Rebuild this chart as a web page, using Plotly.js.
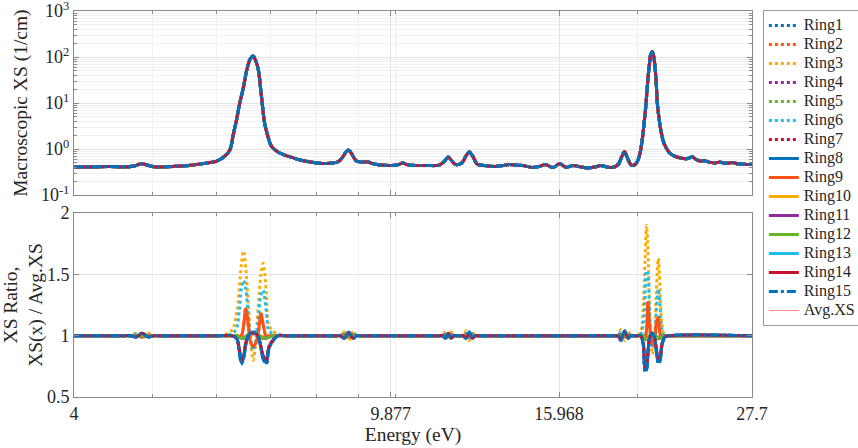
<!DOCTYPE html>
<html><head><meta charset="utf-8">
<script src="https://cdn.plot.ly/plotly-3.0.1.min.js"></script>
<style>html,body{margin:0;padding:0;background:#fff}</style>
</head><body><div id="chart" style="width:858px;height:448px"></div>
<script>
const ringNames = ['Ring1','Ring2','Ring3','Ring4','Ring5','Ring6','Ring7','Ring8','Ring9','Ring10','Ring11','Ring12','Ring13','Ring14','Ring15'];
const avgName = 'Avg.XS';

const xsE = [4.0,4.2,4.43,4.6,4.75,4.85,4.95,5.05,5.3,5.55,5.85,6.0,6.15,6.24,6.30,6.36,6.42,6.49,6.55,6.61,6.67,6.72,6.77,6.83,6.89,6.95,7.03,7.15,7.3,7.45,7.65,8.0,8.3,8.5,8.6,8.7,8.76,8.84,8.95,9.1,9.23,9.4,9.6,9.9,10.1,10.22,10.35,10.6,11.0,11.35,11.52,11.64,11.76,11.9,12.1,12.25,12.36,12.48,12.65,12.9,13.3,13.6,13.85,14.1,14.4,14.8,15.1,15.35,15.7,16.0,16.3,16.6,17.0,17.3,17.7,18.0,18.3,18.6,18.9,19.1,19.25,19.4,19.6,19.75,19.95,20.1,20.25,20.35,20.45,20.55,20.65,20.75,20.84,20.93,21.0,21.08,21.14,21.25,21.35,21.5,21.65,21.9,22.2,22.6,22.9,23.1,23.35,23.6,23.9,24.2,24.5,24.9,25.3,25.7,26.2,26.6,27.0,27.7];
const xsAvg = [0.41,0.41,0.42,0.41,0.43,0.48,0.44,0.41,0.42,0.44,0.50,0.54,0.70,0.95,2.0,4.3,10,22.6,52,88,105,82,52,14,3.8,2.0,1.15,0.88,0.74,0.66,0.57,0.50,0.49,0.53,0.65,0.88,0.95,0.78,0.56,0.52,0.53,0.48,0.45,0.44,0.46,0.50,0.46,0.44,0.44,0.45,0.55,0.67,0.55,0.46,0.50,0.72,0.86,0.70,0.47,0.44,0.42,0.44,0.46,0.45,0.44,0.40,0.42,0.46,0.40,0.48,0.40,0.44,0.41,0.39,0.41,0.44,0.41,0.40,0.46,0.68,0.88,0.66,0.46,0.44,0.52,0.75,1.6,3.5,8,24,60,115,130,100,62,25,10,4.5,2.6,1.5,1.12,0.82,0.70,0.64,0.62,0.63,0.68,0.60,0.55,0.56,0.52,0.50,0.52,0.49,0.51,0.48,0.47,0.46];

const ratioE = [4.0,
  4.62,4.7,4.78,4.86,4.94,5.02,5.1,
  5.95,6.06,6.27,6.36,6.41,6.45,6.49,6.53,6.58,6.62,6.67,6.72,6.77,6.82,6.86,6.93,6.98,7.16,7.3,
  8.45,8.55,8.65,8.76,8.87,8.97,9.07,
  11.35,11.45,11.55,11.64,11.73,11.83,11.93,
  12.05,12.15,12.25,12.36,12.47,12.58,12.68,
  18.8,18.9,19.05,19.25,19.45,19.6,19.7,
  19.96,20.16,20.31,20.42,20.5,20.58,20.7,20.84,20.98,21.08,21.2,21.3,21.42,21.6,21.9,
  27.7];

const ratioRing1  = [1, 1,1,0.99,1.02,0.99,1,1, 1,1.0,1.0,0.98,0.88,0.78,0.82,0.93,1.0,1.02,1.03,1.02,0.99,0.9,0.82,0.78,0.9,1.0,1.0, 1,1,0.98,1.03,0.98,1,1, 1,1,0.98,1.02,0.98,1,1, 1,1,0.98,1.03,0.98,1,1, 1,1,0.96,1.04,0.98,1,1, 1.0,1.0,0.93,0.72,0.73,0.85,0.99,1.02,0.98,0.88,0.79,0.8,0.92,0.99,1.0, 1];
const ratioRing2  = [1, 1,1,1.0,0.99,1.0,1,1, 1,1.0,1.0,1.0,0.99,1.0,1.08,1.22,1.08,0.95,0.91,0.94,1.03,1.18,1.1,0.99,1.0,1.0,1.0, 1,1,1.01,0.99,1.01,1,1, 1,1,1.01,0.99,1.01,1,1, 1,1,1.01,0.99,1.01,1,1, 1,1,1.01,0.99,1.01,1,1, 1.0,1.0,1.0,0.99,1.05,1.27,1.05,0.93,0.97,1.1,1.15,1.02,0.99,1.0,1.0, 1];
const ratioRing3  = [1, 1,1,1.02,0.98,1.02,1,1, 1,1.0,1.04,1.18,1.38,1.58,1.69,1.55,1.25,1.0,0.80,0.95,1.25,1.5,1.59,1.34,1.08,1.01,1.0, 1,1,1.03,0.96,1.03,1,1, 1,1,1.03,0.97,1.03,1,1, 1,1,1.04,0.96,1.03,1,1, 1,1,1.05,0.96,1.03,1,1, 1.0,1.03,1.25,1.65,1.9,1.7,1.15,0.85,1.0,1.35,1.63,1.4,1.1,1.0,1.0, 1];
const ratioRing4  = [1, 1,1,1,1,1,1,1, 1,1.0,1.0,1.0,0.99,0.98,0.98,0.99,1.01,1.02,1.02,1.02,1.01,0.99,0.98,0.98,0.99,1.0,1.0, 1,1,1,1,1,1,1, 1,1,1,1,1,1,1, 1,1,1,1,1,1,1, 1,1,1,1,1,1,1, 1.0,1.0,1.0,0.98,0.97,0.98,1.0,1.02,1.01,0.99,0.98,0.98,0.99,1.0,1.0, 1];
const ratioRing5  = [1, 1,1,1,1,1,1,1, 1,1.0,1.0,1.0,0.99,0.98,0.98,0.99,1.01,1.02,1.02,1.02,1.01,0.99,0.98,0.98,0.99,1.0,1.0, 1,1,1,1,1,1,1, 1,1,1,1,1,1,1, 1,1,1,1,1,1,1, 1,1,1,1,1,1,1, 1.0,1.0,1.0,0.98,0.97,0.98,1.0,1.02,1.01,0.99,0.98,0.98,0.99,1.0,1.0, 1];
const ratioRing6  = [1, 1,1,1.01,0.99,1.01,1,1, 1,1.0,1.01,1.06,1.2,1.38,1.45,1.38,1.15,0.97,0.88,0.95,1.15,1.33,1.37,1.18,1.04,1.0,1.0, 1,1,1.02,0.98,1.02,1,1, 1,1,1.02,0.98,1.02,1,1, 1,1,1.02,0.98,1.02,1,1, 1,1,1.03,0.98,1.02,1,1, 1.0,1.01,1.1,1.35,1.53,1.5,1.1,0.9,1.0,1.2,1.38,1.25,1.05,1.0,1.0, 1];
const ratioRing7  = [1, 1,1,0.99,1.02,0.99,1,1, 1,1.0,1.0,0.98,0.89,0.8,0.83,0.94,1.0,1.02,1.02,1.02,0.99,0.91,0.84,0.8,0.91,1.0,1.0, 1,1,0.98,1.02,0.98,1,1, 1,1,0.98,1.02,0.98,1,1, 1,1,0.98,1.02,0.98,1,1, 1,1,0.97,1.03,0.98,1,1, 1.0,1.0,0.94,0.74,0.75,0.86,0.99,1.02,0.98,0.89,0.81,0.82,0.93,0.99,1.0, 1];
const ratioRing8  = [1, 1,1,0.99,1.02,0.99,1,1, 1,1.0,1.0,0.98,0.88,0.78,0.82,0.93,1.0,1.02,1.03,1.02,0.99,0.9,0.82,0.78,0.9,1.0,1.0, 1,1,0.98,1.03,0.98,1,1, 1,1,0.98,1.02,0.98,1,1, 1,1,0.98,1.03,0.98,1,1, 1,1,0.96,1.04,0.98,1,1, 1.0,1.0,0.93,0.72,0.73,0.85,0.99,1.02,0.98,0.88,0.79,0.8,0.92,0.99,1.0, 1];
const ratioRing9  = [1, 1,1,1.0,0.99,1.0,1,1, 1,1.0,1.0,1.0,0.99,1.0,1.08,1.22,1.08,0.95,0.91,0.94,1.03,1.18,1.1,0.99,1.0,1.0,1.0, 1,1,1.01,0.99,1.01,1,1, 1,1,1.01,0.99,1.01,1,1, 1,1,1.01,0.99,1.01,1,1, 1,1,1.01,0.99,1.01,1,1, 1.0,1.0,1.0,0.99,1.05,1.27,1.05,0.93,0.97,1.1,1.15,1.02,0.99,1.0,1.0, 1];
const ratioRing10 = [1, 1,1,1,1,1,1,1, 1,1.0,1.0,1.0,0.99,0.98,0.98,0.99,1.01,1.02,1.02,1.02,1.01,0.99,0.98,0.98,0.99,1.0,1.0, 1,1,1,1,1,1,1, 1,1,1,1,1,1,1, 1,1,1,1,1,1,1, 1,1,1,1,1,1,1, 1.0,1.0,1.0,0.98,0.97,0.98,1.0,1.02,1.01,0.99,0.98,0.98,0.99,1.0,1.0, 1];
const ratioRing11 = [1, 1,1,1,1,1,1,1, 1,1.0,1.0,1.0,0.99,0.98,0.98,0.99,1.01,1.02,1.02,1.02,1.01,0.99,0.98,0.98,0.99,1.0,1.0, 1,1,1,1,1,1,1, 1,1,1,1,1,1,1, 1,1,1,1,1,1,1, 1,1,1,1,1,1,1, 1.0,1.0,1.0,0.98,0.97,0.98,1.0,1.02,1.01,0.99,0.98,0.98,0.99,1.0,1.0, 1];
const ratioRing12 = [1, 1,1,1,1,1,1,1, 1,1.0,1.0,1.0,0.99,0.98,0.98,0.99,1.01,1.02,1.02,1.02,1.01,0.99,0.98,0.98,0.99,1.0,1.0, 1,1,1,1,1,1,1, 1,1,1,1,1,1,1, 1,1,1,1,1,1,1, 1,1,1,1,1,1,1, 1.0,1.0,1.0,0.98,0.97,0.98,1.0,1.02,1.01,0.99,0.98,0.98,0.99,1.0,1.0, 1];
const ratioRing13 = [1, 1,1,0.99,1.02,0.99,1,1, 1,1.0,1.0,0.98,0.89,0.8,0.83,0.94,1.0,1.02,1.02,1.02,0.99,0.91,0.84,0.8,0.91,1.0,1.0, 1,1,0.98,1.02,0.98,1,1, 1,1,0.98,1.02,0.98,1,1, 1,1,0.98,1.02,0.98,1,1, 1,1,0.97,1.03,0.98,1,1, 1.0,1.0,0.94,0.74,0.75,0.86,0.99,1.02,0.98,0.89,0.81,0.82,0.93,0.99,1.0, 1];
const ratioRing14 = [1, 1,1,0.99,1.02,0.99,1,1, 1,1.0,1.0,0.98,0.89,0.8,0.83,0.94,1.0,1.02,1.02,1.02,0.99,0.91,0.84,0.8,0.91,1.0,1.0, 1,1,0.98,1.02,0.98,1,1, 1,1,0.98,1.02,0.98,1,1, 1,1,0.98,1.02,0.98,1,1, 1,1,0.97,1.03,0.98,1,1, 1.0,1.0,0.94,0.74,0.75,0.86,0.99,1.02,0.98,0.89,0.81,0.82,0.93,0.99,1.0, 1];
const ratioRing15 = [1, 1,1,0.99,1.02,0.99,1,1, 1,1.0,1.0,0.98,0.87,0.77,0.81,0.92,1.0,1.02,1.03,1.02,0.99,0.9,0.81,0.77,0.9,1.0,1.0, 1,1,0.98,1.03,0.98,1,1, 1,1,0.98,1.02,0.98,1,1, 1,1,0.98,1.03,0.98,1,1, 1,1,0.96,1.04,0.98,1,1, 1.0,1.0,0.92,0.70,0.72,0.84,0.99,1.02,0.98,0.87,0.77,0.79,0.92,0.99,1.0, 1];
const ratioAvg    = [1, 1,1,1,1,1,1,1, 1,1,1,1,1,1,1,1,1,1,1,1,1,1,1,1,1,1,1, 1,1,1,1,1,1,1, 1,1,1,1,1,1,1, 1,1,1,1,1,1,1, 1,1,1,1,1,1,1, 1,1,1,1,1,1,1,1,1,1,1,1,1,1,1, 1];

const xTickVals = [4, 9.877, 15.968, 27.7];
const xTickText = ['4', '9.877', '15.968', '27.7'];
const xMinorVals = [5, 6, 7, 8, 9, 10, 20];
const yTopTickVals = [0.1, 1, 10, 100, 1000];
const yTopTickText = ['10<sup>-1</sup>', '10<sup>0</sup>', '10<sup>1</sup>', '10<sup>2</sup>', '10<sup>3</sup>'];
const yBotTickVals = [0.5, 1, 1.5, 2];
const yBotTickText = ['0.5', '1', '1.5', '2'];

const ringRatios = [ratioRing1,ratioRing2,ratioRing3,ratioRing4,ratioRing5,ratioRing6,ratioRing7,ratioRing8,ratioRing9,ratioRing10,ratioRing11,ratioRing12,ratioRing13,ratioRing14,ratioRing15];
const palette = ['#0072BD','#FF5015','#FFAA00','#8E2C9A','#6BB52A','#1EBFEF','#C8102E'];
const avgColor = '#FF8C8C';

const yMinorVals = [];
[0.1, 1, 10, 100].forEach(d => { for (let k = 2; k <= 9; k++) yMinorVals.push(k * d); });

const legName = n => '<span style="font-size:16px">' + n + '</span>';

const traces = [];
traces.push({x: xsE, y: xsAvg, xaxis: 'x', yaxis: 'y', type: 'scatter', mode: 'lines', name: legName(avgName), legendrank: 16,
  line: {color: avgColor, width: 1, shape: 'spline', smoothing: 1}});
traces.push({x: ratioE, y: ratioAvg, xaxis: 'x2', yaxis: 'y2', type: 'scatter', mode: 'lines', showlegend: false,
  line: {color: avgColor, width: 1, shape: 'spline', smoothing: 1}});
ringNames.forEach((nm, i) => {
  const dash = i < 7 ? 'dot' : (i < 14 ? 'solid' : 'dashdot');
  const color = palette[i % 7];
  traces.push({x: xsE, y: xsAvg, xaxis: 'x', yaxis: 'y', type: 'scatter', mode: 'lines', name: legName(nm), legendrank: i + 1,
    line: {color: color, width: 3, dash: dash, shape: 'spline', smoothing: 1}});
  traces.push({x: ratioE, y: ringRatios[i], xaxis: 'x2', yaxis: 'y2', type: 'scatter', mode: 'lines', showlegend: false,
    line: {color: color, width: 3, dash: dash, shape: 'spline', smoothing: 1}});
});

const axLine = '#8a8a8a';
const gridC = '#e3e3e3';
const minorGridC = '#f0f0f0';
const tickFont = {family: 'Liberation Serif', size: 18, color: '#262626'};
const titleFont = {family: 'Times New Roman', size: 19.5, color: '#262626'};

const xCommon = {
  type: 'log', range: [Math.log10(4), Math.log10(27.7)],
  tickmode: 'array', tickvals: xTickVals, ticktext: xTickText,
  ticks: 'inside', ticklen: 5, tickcolor: axLine, showline: true, linecolor: axLine, linewidth: 1, mirror: 'ticks',
  showgrid: true, gridcolor: gridC, zeroline: false, tickfont: tickFont, ticklabeloverflow: 'allow',
  minor: {tickmode: 'array', tickvals: xMinorVals, ticks: 'inside', ticklen: 3, tickcolor: axLine, showgrid: true, gridcolor: minorGridC}
};

const layout = {
  width: 858, height: 448,
  margin: {l: 74, r: 106, t: 11, b: 51, autoexpand: false},
  paper_bgcolor: '#ffffff', plot_bgcolor: '#ffffff',
  font: {family: 'Liberation Serif', size: 18, color: '#262626'},
  showlegend: true,
  legend: {x: 1.016, y: 1.0026, xanchor: 'left', yanchor: 'top', bordercolor: '#9a9a9a', borderwidth: 1, bgcolor: '#ffffff',
    maxheight: 440,
    font: {family: 'Liberation Serif', size: 12.3, color: '#262626'}, tracegroupgap: 0, traceorder: 'normal'},
  xaxis: Object.assign({}, xCommon, {anchor: 'y', domain: [0, 1], showticklabels: false}),
  yaxis: {
    anchor: 'x', domain: [0.523, 1], type: 'log', range: [-1, 3],
    tickmode: 'array', tickvals: yTopTickVals, ticktext: yTopTickText,
    ticks: 'inside', ticklen: 5, tickcolor: axLine, showline: true, linecolor: axLine, mirror: 'ticks',
    showgrid: true, gridcolor: gridC, zeroline: false, tickfont: tickFont, ticklabeloverflow: 'allow',
    minor: {tickmode: 'array', tickvals: yMinorVals, ticks: 'inside', ticklen: 3, tickcolor: axLine, showgrid: true, gridcolor: minorGridC},
    title: {text: 'Macroscopic XS (1/cm)', font: titleFont, standoff: 8}
  },
  xaxis2: Object.assign({}, xCommon, {anchor: 'y2', domain: [0, 1], showticklabels: true,
    title: {text: 'Energy (eV)', font: titleFont, standoff: 4}}),
  yaxis2: {
    anchor: 'x2', domain: [0, 0.4767], range: [0.5, 2],
    tickmode: 'array', tickvals: yBotTickVals, ticktext: yBotTickText,
    ticks: 'inside', ticklen: 5, tickcolor: axLine, showline: true, linecolor: axLine, mirror: 'ticks',
    showgrid: true, gridcolor: gridC, zeroline: false, tickfont: tickFont, ticklabeloverflow: 'allow',
    title: {text: 'XS Ratio,<br>XS(x) / Avg.XS', font: titleFont, standoff: 6}
  }
};

Plotly.newPlot('chart', traces, layout, {displayModeBar: false, staticPlot: true});
</script>
</body></html>
